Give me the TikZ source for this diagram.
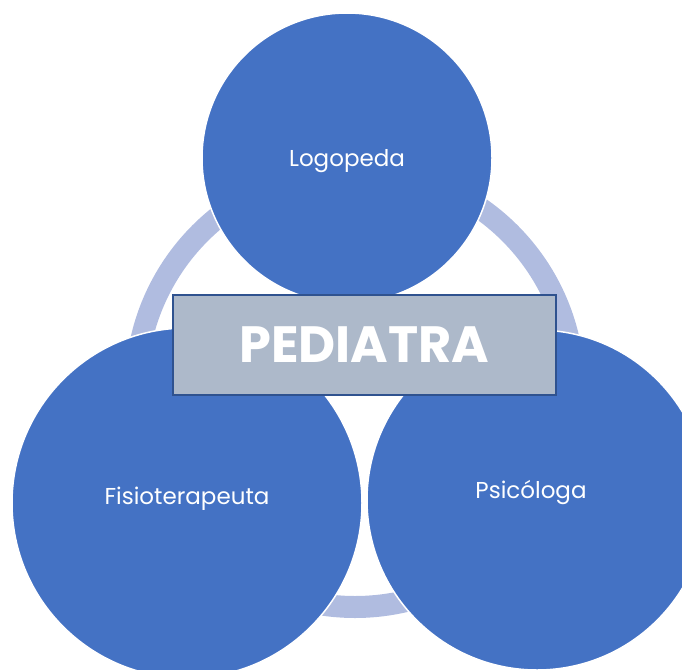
\documentclass[tikz,border=0pt]{standalone}
\usepackage{fontspec}
\setmainfont{Poppins}
\usetikzlibrary{positioning}
\definecolor{circleblue}{HTML}{4472C4}
\definecolor{ringlav}{HTML}{B0BCE0}
\definecolor{boxgrey}{HTML}{ADB9CA}
\definecolor{boxedge}{HTML}{2F528F}
\tikzset{
  member/.style={circle, fill=circleblue, draw=white, line width=1.5pt, inner sep=0pt},
  tag/.style={text=white, inner sep=0pt, font=\fontsize{23}{27}\selectfont},
  ring/.style={draw=ringlav, line width=22pt},
  titlebox/.style={rectangle, fill=boxgrey, draw=boxedge, line width=2pt, text=white, minimum width=383pt, minimum height=100pt, font=\fontsize{51}{55}\selectfont\bfseries}
}
\begin{document}
\begin{tikzpicture}[x=1pt,y=-1pt]
  \useasboundingbox (0,0) rectangle (682,669);
  % ring behind the circles
  \coordinate (hub) at (355,388);
  \draw[ring] (hub) circle[radius=219pt];

  \node[member, minimum size=290pt] (logo) at (347,158) {};
  \node[member, minimum size=350pt] (fisio) at (187,503) {};
  \node[member, minimum size=340pt] (psico) at (537,500) {};

  \node[tag] (logoText) at ([yshift=-3pt]logo.center) {Logopeda};
  \node[tag] (fisioText) at ([yshift=4pt]fisio.center) {Fisioterapeuta};
  \node[tag] (psicoText) at ([xshift=-6pt,yshift=7pt]psico.center) {Psicóloga};

  \node[titlebox] (ped) at (364.5,345) {PEDIATRA};
\end{tikzpicture}
\end{document}
